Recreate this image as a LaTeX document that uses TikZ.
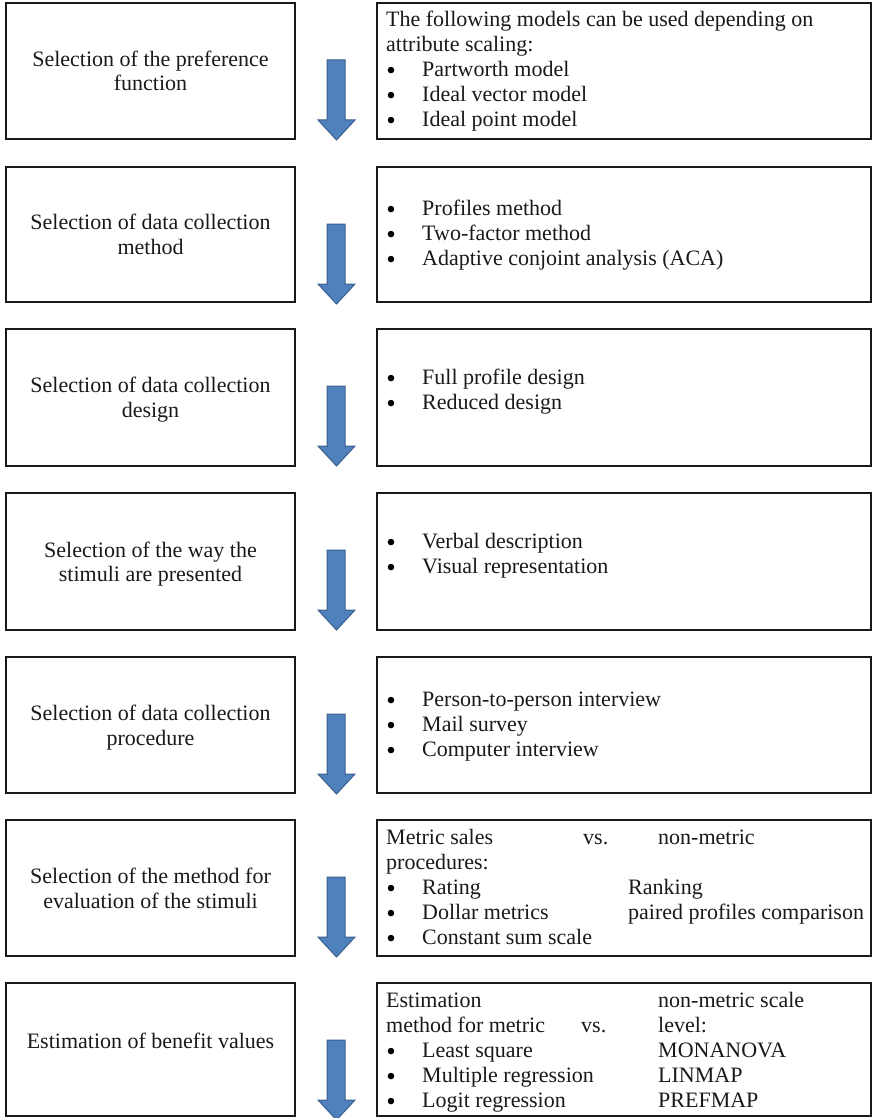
\documentclass[tikz,border=0pt]{standalone}
\usepackage{fontspec}
\setmainfont{Liberation Serif}
\definecolor{arrfill}{HTML}{4F81BD}
\definecolor{arrline}{HTML}{3A5F8F}
\begin{document}
\begin{tikzpicture}[x=1pt,y=-1pt,
  font=\fontsize{22}{24.5}\selectfont,
  boxline/.style={draw=black!90, line width=1.3pt},
  lbox/.style={boxline, minimum width=289pt, inner sep=0pt, align=center, text depth=0pt, text=black!90},
  rbox/.style={boxline, minimum width=494pt, inner sep=0pt},
  txt/.style={anchor=base west, inner sep=0pt, text=black!90},
  bul/.style={anchor=base, inner sep=0pt, text=black, font=\fontsize{27}{24.5}\selectfont, yshift=-3pt},
  blockarrow/.style={fill=arrfill, draw=arrline, line width=1pt, line join=miter}]
\useasboundingbox (0,0) rectangle (872,1118);

% left boxes
\node[lbox, minimum height=136pt] (L1) at (150.5,71) {Selection of the preference\\function};
\node[lbox, minimum height=135pt] (L2) at (150.5,234.5) {Selection of data collection\\method};
\node[lbox, minimum height=137pt] (L3) at (150.5,397.5) {Selection of data collection\\design};
\node[lbox, minimum height=137pt] (L4) at (150.5,561.5) {Selection of the way the\\stimuli are presented};
\node[lbox, minimum height=136pt] (L5) at (150.5,725) {Selection of data collection\\procedure};
\node[lbox, minimum height=136pt] (L6) at (150.5,888) {Selection of the method for\\evaluation of the stimuli};
\node[lbox, minimum height=133pt] (L7) at (150.5,1049.5) {};
\node[txt, anchor=base] (L7t) at (150.5,1048) {Estimation of benefit values};

% right boxes
\node[rbox, minimum height=136pt] (R1) at (624,71) {};
\node[rbox, minimum height=135pt] (R2) at (624,234.5) {};
\node[rbox, minimum height=137pt] (R3) at (624,397.5) {};
\node[rbox, minimum height=137pt] (R4) at (624,561.5) {};
\node[rbox, minimum height=136pt] (R5) at (624,725) {};
\node[rbox, minimum height=136pt] (R6) at (624,888) {};
\node[rbox, minimum height=133pt] (R7) at (624,1049.5) {};

% arrows
\foreach \t in {3,167,329,493,657,820,983}{
  \draw[blockarrow] (327,\t+57) -- (345,\t+57) -- (345,\t+117) -- (355,\t+117)
    -- (336.5,\t+137) -- (318,\t+117) -- (327,\t+117) -- cycle;
}

% box 1 text
\node[txt] (r1a) at (386,27) {The following models can be used depending on};
\node[txt] (r1b) at (386,52) {attribute scaling:};
\node[bul] (r1c) at (391,77) {•}; \node[txt] (r1cc) at (422,77) {Partworth model};
\node[bul] (r1d) at (391,102) {•}; \node[txt] (r1dd) at (422,102) {Ideal vector model};
\node[bul] (r1e) at (391,127) {•}; \node[txt] (r1ee) at (422,127) {Ideal point model};

% box 2 text
\node[bul] (r2a) at (391,215) {•}; \node[txt] (r2aa) at (422,215) {Profiles method};
\node[bul] (r2b) at (391,240) {•}; \node[txt] (r2bb) at (422,240) {Two-factor method};
\node[bul] (r2c) at (391,265) {•}; \node[txt] (r2cc) at (422,265) {Adaptive conjoint analysis (ACA)};

% box 3 text
\node[bul] (r3a) at (391,384) {•}; \node[txt] (r3aa) at (422,384) {Full profile design};
\node[bul] (r3b) at (391,409) {•}; \node[txt] (r3bb) at (422,409) {Reduced design};

% box 4 text
\node[bul] (r4a) at (391,548) {•}; \node[txt] (r4aa) at (422,548) {Verbal description};
\node[bul] (r4b) at (391,573) {•}; \node[txt] (r4bb) at (422,573) {Visual representation};

% box 5 text
\node[bul] (r5a) at (391,706) {•}; \node[txt] (r5aa) at (422,706) {Person-to-person interview};
\node[bul] (r5b) at (391,731) {•}; \node[txt] (r5bb) at (422,731) {Mail survey};
\node[bul] (r5c) at (391,756) {•}; \node[txt] (r5cc) at (422,756) {Computer interview};

% box 6 text
\node[txt] (r6a) at (386,844) {Metric sales};
\node[txt] (r6v) at (583,844) {vs.};
\node[txt] (r6n) at (658,844) {non-metric};
\node[txt] (r6b) at (386,869) {procedures:};
\node[bul] (r6c) at (391,894) {•}; \node[txt] (r6cc) at (422,894) {Rating};
\node[txt] (r6cr) at (628,894) {Ranking};
\node[bul] (r6d) at (391,919) {•}; \node[txt] (r6dd) at (422,919) {Dollar metrics};
\node[txt] (r6dr) at (628,919) {paired profiles comparison};
\node[bul] (r6e) at (391,944) {•}; \node[txt] (r6ee) at (422,944) {Constant sum scale};

% box 7 text
\node[txt] (r7a) at (386,1007) {Estimation};
\node[txt] (r7ar) at (658,1007) {non-metric scale};
\node[txt] (r7b) at (386,1032) {method for metric};
\node[txt] (r7v) at (581,1032) {vs.};
\node[txt] (r7br) at (658,1032) {level:};
\node[bul] (r7c) at (391,1057) {•}; \node[txt] (r7cc) at (422,1057) {Least square};
\node[txt] (r7cr) at (658,1057) {MONANOVA};
\node[bul] (r7d) at (391,1082) {•}; \node[txt] (r7dd) at (422,1082) {Multiple regression};
\node[txt] (r7dr) at (658,1082) {LINMAP};
\node[bul] (r7e) at (391,1107) {•}; \node[txt] (r7ee) at (422,1107) {Logit regression};
\node[txt] (r7er) at (658,1107) {PREFMAP};
\end{tikzpicture}
\end{document}
